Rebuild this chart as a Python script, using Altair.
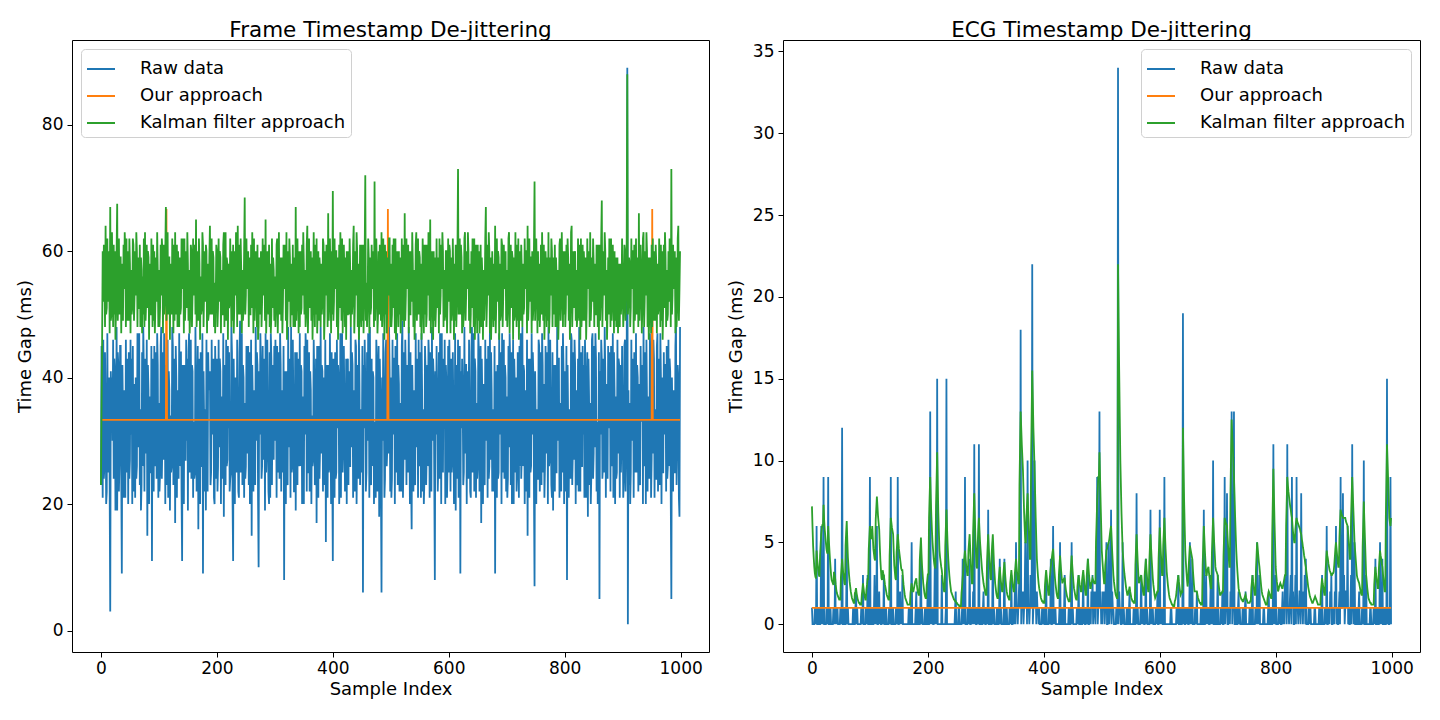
import altair as alt
import pandas as pd

SERIES = ["Raw data", "Our approach", "Kalman filter approach"]
COLORS = ["#1f77b4", "#ff7f0e", "#2ca02c"]
FONT = "DejaVu Sans"

# ---------------- Frame timestamps (left), one value per sample ----------------
frame_raw = [
    23, 45, 33, 21, 46, 24, 26, 44, 35, 20, 22, 47, 28, 25, 40, 23, 3, 41, 36, 40, 30, 46, 24, 43, 41, 19, 29, 48, 19, 44, 42, 22, 27, 45, 45, 25, 9, 42, 34, 21, 38, 27, 21, 46, 25, 41, 43, 20, 44, 24,
    27, 46, 31, 43, 20, 45, 22, 26, 39, 21, 40, 24, 26, 47, 29, 42, 47, 23, 35, 19, 23, 44, 26, 48, 41, 22, 43, 39, 28, 46, 15, 42, 38, 20, 37, 25, 25, 45, 11, 43, 36, 22, 45, 26, 29, 44, 24, 47, 42, 21,
    36, 22, 25, 45, 48, 24, 30, 44, 27, 47, 43, 20, 40, 42, 23, 46, 21, 41, 38, 19, 34, 25, 26, 48, 45, 23, 31, 43, 17, 45, 40, 21, 38, 26, 24, 47, 26, 44, 44, 22, 11, 42, 35, 20, 42, 27, 27, 46, 30, 43,
    19, 44, 47, 25, 28, 46, 24, 42, 41, 21, 33, 24, 25, 48, 39, 22, 29, 45, 16, 43, 37, 20, 44, 26, 26, 47, 9, 41, 33, 22, 35, 19, 46, 27, 22, 44, 38, 40, 41, 23, 25, 46, 31, 42, 43, 21, 20, 45, 39, 24,
    43, 22, 26, 46, 29, 43, 41, 20, 37, 25, 24, 47, 18, 42, 39, 23, 46, 26, 27, 45, 32, 44, 22, 24, 25, 48, 44, 21, 11, 43, 33, 20, 40, 26, 25, 46, 34, 22, 21, 44, 49, 25, 30, 47, 23, 42, 40, 21, 36, 24,
    26, 45, 28, 43, 45, 23, 44, 20, 24, 46, 15, 42, 36, 22, 38, 26, 23, 48, 30, 44, 42, 21, 10, 41, 31, 47, 42, 24, 26, 45, 27, 43, 37, 19, 47, 25, 29, 46, 33, 22, 20, 44, 21, 47, 43, 23, 39, 42, 27, 45,
    30, 46, 40, 21, 45, 25, 27, 44, 24, 47, 42, 22, 38, 26, 25, 45, 8, 41, 34, 20, 41, 24, 23, 48, 29, 43, 39, 21, 48, 25, 26, 46, 35, 22, 22, 44, 19, 42, 44, 23, 43, 26, 28, 47, 26, 42, 41, 20, 37, 24,
    20, 45, 31, 47, 43, 22, 46, 25, 25, 44, 22, 41, 38, 20, 34, 26, 27, 46, 40, 23, 24, 43, 17, 45, 36, 21, 45, 24, 29, 48, 28, 42, 41, 22, 36, 40, 23, 46, 14, 42, 33, 21, 42, 25, 26, 47, 33, 20, 44, 26,
    11, 43, 35, 21, 44, 24, 25, 46, 32, 42, 40, 20, 27, 47, 21, 44, 47, 25, 29, 45, 36, 22, 24, 43, 20, 41, 43, 23, 41, 26, 26, 48, 29, 44, 42, 21, 38, 24, 22, 46, 45, 20, 30, 42, 24, 47, 39, 23, 35, 25,
    27, 45, 6, 42, 32, 46, 39, 22, 25, 44, 30, 47, 44, 21, 48, 25, 23, 43, 26, 41, 40, 20, 33, 24, 21, 46, 43, 22, 28, 45, 18, 43, 37, 23, 6, 40, 30, 47, 37, 21, 24, 44, 46, 26, 29, 42, 28, 48, 41, 22,
    40, 21, 24, 46, 31, 43, 43, 20, 45, 25, 26, 47, 23, 42, 39, 22, 36, 24, 22, 45, 49, 21, 28, 44, 27, 46, 40, 23, 42, 26, 25, 48, 33, 20, 44, 24, 16, 42, 35, 22, 38, 25, 23, 47, 29, 43, 41, 21, 46, 26,
    27, 44, 21, 47, 38, 22, 35, 20, 24, 45, 41, 23, 28, 42, 26, 46, 43, 21, 44, 25, 22, 48, 30, 43, 40, 24, 8, 41, 31, 45, 37, 22, 26, 44, 24, 47, 42, 20, 47, 26, 25, 43, 32, 46, 20, 42, 39, 21, 27, 45,
    25, 46, 39, 22, 43, 25, 27, 44, 34, 20, 23, 47, 19, 42, 40, 24, 46, 21, 29, 45, 9, 41, 32, 43, 38, 23, 25, 48, 28, 42, 42, 20, 41, 26, 24, 46, 33, 22, 21, 44, 48, 25, 30, 47, 22, 43, 41, 21, 36, 24,
    26, 47, 44, 22, 28, 45, 17, 43, 36, 20, 39, 25, 23, 46, 30, 42, 43, 21, 45, 24, 26, 48, 27, 44, 38, 22, 35, 26, 22, 45, 9, 41, 33, 21, 42, 24, 25, 47, 31, 43, 44, 20, 47, 25, 27, 46, 24, 42, 40, 22,
    37, 21, 24, 45, 29, 47, 42, 23, 44, 20, 27, 46, 20, 43, 38, 25, 40, 22, 25, 44, 33, 21, 45, 26, 47, 24, 28, 48, 26, 42, 41, 20, 38, 24, 22, 46, 15, 43, 34, 21, 43, 25, 26, 47, 31, 44, 40, 22, 7, 41,
    33, 20, 35, 24, 24, 46, 45, 22, 29, 44, 23, 47, 42, 25, 39, 21, 26, 45, 28, 43, 44, 20, 48, 26, 27, 46, 34, 23, 21, 44, 19, 42, 39, 22, 42, 25, 25, 48, 30, 43, 43, 21, 36, 24, 22, 45, 25, 47, 41, 20,
    41, 22, 26, 45, 8, 42, 33, 21, 35, 25, 24, 47, 46, 23, 28, 44, 27, 46, 42, 20, 38, 24, 23, 43, 22, 48, 40, 22, 44, 26, 26, 45, 31, 42, 21, 46, 40, 21, 29, 44, 18, 43, 37, 23, 36, 20, 25, 46, 47, 24,
    28, 45, 29, 47, 43, 22, 33, 20, 22, 44, 5, 41, 31, 46, 43, 24, 26, 43, 25, 48, 41, 21, 39, 25, 24, 45, 32, 42, 44, 22, 45, 26, 27, 47, 21, 44, 38, 20, 37, 24, 25, 46, 28, 43, 42, 21, 42, 25, 30, 45,
    34, 21, 24, 45, 46, 22, 28, 44, 89, 1, 38, 23, 36, 20, 25, 46, 30, 43, 41, 21, 44, 25, 26, 47, 25, 42, 40, 22, 39, 24, 23, 45, 33, 41, 42, 20, 48, 26, 27, 44, 20, 46, 36, 22, 37, 25, 24, 47, 42, 21,
    27, 44, 28, 46, 43, 21, 35, 24, 24, 45, 47, 22, 29, 43, 23, 47, 40, 20, 40, 25, 25, 44, 31, 42, 42, 22, 45, 24, 26, 46, 26, 43, 41, 21, 5, 40, 33, 22, 38, 25, 25, 45, 49, 23, 30, 42, 40, 21, 18, 48,
]
frame_kalman = [
    23, 35, 46, 60, 52, 61, 58, 48, 64, 50, 51, 62, 52, 59, 60, 47, 67, 49, 50, 63, 55, 48, 61, 50, 60, 46, 51, 60, 67.5, 49, 54, 62, 50, 59, 59, 47, 58, 50, 49, 61, 54, 63, 60, 48, 62, 49, 52, 60, 49, 62,
    58, 47, 57, 50, 51, 62, 61, 49, 53, 60, 53, 63, 60, 48, 59, 51, 51, 61, 48, 59, 57, 47, 56, 50, 62, 48, 63, 49, 52, 61, 51, 60, 59, 46, 58, 50, 50, 62, 55, 48, 61, 49, 60, 47, 52, 59, 52, 63, 57, 48,
    57, 48, 51, 61, 53, 62, 60, 47, 61, 50, 52, 60, 67, 49, 54, 63, 50, 59, 59, 46, 58, 51, 50, 62, 55, 47, 61, 49, 63, 50, 52, 61, 48, 60, 57, 48, 59, 50, 51, 62, 54, 59, 62, 47, 62, 49, 53, 60, 51, 63,
    58, 49, 57, 47, 50, 61, 60, 48, 53, 62, 53, 59, 61, 50, 65, 48, 52, 60, 49, 62, 58, 46, 56, 50, 51, 63, 61, 48, 54, 60, 52, 61, 60, 47, 58, 49, 50, 59, 64, 50, 53, 62, 50, 60, 59, 48, 55, 47, 52, 61,
    60, 48, 51, 62, 52, 60, 59, 47, 57, 50, 50, 61, 63, 48, 54, 63, 49, 59, 58, 46, 58, 51, 52, 62, 55, 48, 60, 49, 61, 47, 51, 60, 53, 63, 59, 48, 64, 50, 52, 61, 50, 62, 57, 47, 57, 49, 51, 60, 68.5, 50,
    53, 62, 54, 59, 60, 48, 59, 50, 50, 61, 51, 63, 58, 47, 62, 49, 53, 60, 56, 48, 61, 46, 48, 59, 56, 50, 60, 48, 52, 62, 53, 61, 59, 49, 65, 47, 51, 60, 55, 50, 61, 48, 58, 47, 50, 62, 51, 59, 57, 49,
    56, 48, 51, 61, 62, 47, 53, 63, 50, 59, 58, 49, 59, 47, 52, 61, 54, 60, 61, 49, 63, 46, 51, 60, 52, 62, 59, 48, 58, 50, 50, 61, 48, 59, 57, 48, 67, 49, 53, 62, 55, 47, 60, 48, 60, 50, 51, 61, 53, 63,
    58, 50, 57, 48, 50, 61, 64, 47, 52, 62, 51, 59, 60, 49, 59, 46, 53, 63, 55, 48, 61, 50, 62, 47, 51, 60, 49, 59, 57, 48, 58, 50, 52, 62, 61, 46, 50, 60, 53, 61, 59, 48, 66, 49, 52, 62, 56, 47, 60, 50,
    69.5, 49, 52, 62, 54, 60, 60, 48, 59, 46, 51, 61, 51, 63, 58, 49, 62, 47, 53, 61, 56, 48, 59, 46, 60, 50, 50, 60, 50, 62, 57, 48, 57, 50, 52, 61, 64, 47, 51, 60, 53, 63, 60, 48, 58, 46, 50, 61, 55, 48,
    61, 49, 61, 47, 52, 60, 72, 49, 55, 48, 52, 62, 59, 47, 59, 50, 51, 61, 54, 59, 60, 48, 71, 49, 53, 62, 57, 47, 50, 60, 50, 61, 58, 49, 63, 48, 52, 62, 55, 46, 61, 50, 60, 47, 51, 59, 53, 62, 62, 48,
    58, 48, 50, 61, 51, 62, 59, 47, 62, 46, 52, 60, 55, 48, 60, 50, 59, 47, 51, 62, 49, 61, 57, 48, 66, 49, 53, 62, 54, 59, 61, 47, 60, 50, 50, 60, 52, 63, 58, 48, 57, 46, 51, 61, 63, 49, 54, 62, 50, 60,
    59, 48, 58, 46, 52, 62, 55, 47, 61, 50, 61, 48, 50, 61, 53, 63, 58, 49, 65, 47, 52, 60, 56, 46, 60, 49, 59, 48, 51, 62, 51, 59, 57, 47, 62, 50, 53, 61, 54, 63, 60, 48, 57, 49, 50, 60, 60, 47, 53, 62,
    52, 61, 60, 47, 59, 49, 51, 62, 55, 46, 58, 49, 61, 48, 52, 60, 73, 50, 54, 62, 50, 61, 59, 47, 57, 48, 51, 62, 63, 49, 53, 60, 54, 63, 60, 49, 58, 47, 50, 60, 51, 62, 57, 48, 62, 46, 52, 61, 56, 47,
    61, 49, 60, 47, 51, 61, 48, 59, 56, 46, 57, 49, 53, 62, 67, 48, 52, 61, 53, 63, 60, 47, 59, 46, 51, 60, 55, 48, 58, 49, 64, 47, 52, 62, 52, 60, 59, 46, 58, 49, 50, 62, 61, 48, 53, 61, 54, 59, 60, 49,
    57, 48, 51, 62, 63, 47, 53, 61, 51, 60, 59, 46, 59, 49, 50, 63, 55, 48, 61, 49, 62, 46, 52, 60, 49, 61, 57, 48, 58, 50, 51, 62, 54, 60, 60, 47, 64, 49, 52, 62, 52, 59, 59, 47, 60, 49, 51, 61, 71, 49,
    54, 62, 55, 47, 60, 49, 58, 48, 51, 61, 50, 63, 57, 49, 61, 46, 52, 60, 56, 48, 59, 49, 63, 47, 50, 59, 53, 62, 60, 48, 59, 50, 52, 61, 48, 59, 56, 48, 57, 46, 51, 61, 62, 49, 53, 63, 55, 48, 60, 50,
    60, 48, 51, 61, 53, 62, 59, 49, 58, 46, 52, 63, 64, 48, 53, 60, 51, 59, 60, 49, 57, 48, 50, 62, 55, 49, 61, 46, 62, 48, 52, 61, 49, 60, 57, 49, 59, 46, 51, 62, 54, 59, 60, 48, 63, 49, 52, 59, 52, 62,
    58, 48, 58, 50, 50, 61, 56, 48, 61, 46, 61, 49, 52, 62, 68, 48, 54, 60, 53, 63, 60, 49, 57, 46, 51, 59, 50, 62, 58, 48, 62, 49, 52, 61, 55, 47, 60, 49, 59, 48, 50, 59, 47, 58, 56, 48, 58, 50, 52, 62,
    55, 48, 51, 61, 60, 49, 53, 62, 88, 50, 52, 59, 58, 48, 51, 62, 54, 60, 60, 47, 61, 49, 52, 62, 50, 59, 58, 48, 66, 49, 53, 61, 57, 47, 51, 62, 63, 48, 52, 60, 53, 63, 60, 48, 59, 46, 50, 59, 55, 47,
    61, 48, 62, 49, 51, 60, 49, 61, 58, 47, 58, 50, 51, 62, 56, 48, 61, 49, 60, 46, 52, 61, 51, 63, 59, 48, 57, 49, 50, 60, 52, 62, 60, 48, 73, 50, 53, 61, 54, 59, 60, 47, 59, 48, 51, 62, 64, 49, 54, 60,
]
frame_ours_x = [0, 112, 113, 114, 494, 495, 496, 950, 951, 952, 999]
frame_ours_y = [33.33, 33.33, 66.67, 33.33, 33.33, 66.67, 33.33, 33.33, 66.67, 33.33, 33.33]

# ---------------- ECG timestamps (right), one value per sample ----------------
ecg_raw = [
    1, 0, 0, 0, 0, 1, 1, 0, 6, 0, 0, 1, 1, 0, 0, 1, 6, 0, 1, 0, 9, 0, 0, 0, 0, 1, 1, 0, 9, 0, 0, 1, 1, 0, 0, 0, 0, 1, 1, 0, 4, 0, 1, 0, 1, 0, 0, 0, 0, 1,
    1, 0, 12, 0, 0, 1, 1, 0, 0, 1, 5, 0, 1, 0, 0, 0, 0, 0, 0, 0, 0, 1, 1, 0, 0, 1, 2, 0, 1, 0, 0, 0, 0, 0, 0, 1, 1, 0, 3, 0, 0, 0, 0, 1, 1, 0, 3, 0, 0, 1,
    9, 0, 0, 1, 1, 0, 0, 1, 3, 0, 1, 0, 6, 0, 0, 1, 2, 0, 1, 0, 0, 1, 1, 0, 3, 0, 0, 1, 1, 0, 0, 0, 0, 1, 1, 0, 9, 0, 0, 1, 1, 0, 0, 0, 0, 1, 1, 0, 9, 0,
    0, 1, 2, 0, 1, 0, 3, 0, 0, 0, 0, 0, 0, 0, 0, 0, 0, 1, 1, 0, 0, 1, 5, 0, 0, 0, 0, 0, 0, 1, 2, 0, 0, 1, 1, 0, 0, 1, 5, 0, 1, 0, 0, 0, 0, 1, 1, 0, 0, 1,
    3, 0, 0, 1, 13, 0, 1, 0, 1, 0, 0, 1, 4, 0, 1, 0, 15, 0, 0, 0, 0, 0, 0, 0, 3, 0, 0, 0, 0, 0, 0, 1, 15, 0, 0, 0, 0, 0, 0, 0, 0, 0, 0, 0, 0, 0, 0, 1, 2, 0,
    0, 0, 0, 1, 1, 0, 0, 0, 0, 1, 4, 0, 1, 0, 9, 0, 0, 0, 0, 1, 1, 0, 4, 0, 0, 1, 1, 0, 2, 0, 11, 0, 1, 0, 0, 1, 1, 0, 11, 0, 0, 1, 1, 0, 0, 1, 2, 0, 1, 0,
    0, 1, 1, 0, 7, 0, 0, 1, 1, 0, 0, 1, 5, 0, 1, 0, 0, 0, 0, 1, 1, 0, 0, 1, 4, 0, 1, 0, 0, 0, 0, 1, 4, 0, 0, 1, 1, 0, 0, 0, 0, 1, 1, 0, 3, 0, 0, 1, 1, 0,
    2, 0, 5, 1, 1, 0, 1, 2, 3, 1, 18, 0, 2, 1, 2, 0, 1, 2, 5, 1, 3, 0, 10, 1, 1, 0, 1, 3, 2, 1, 22, 0, 1, 2, 10, 1, 2, 0, 2, 1, 1, 0, 1, 0, 0, 0, 0, 1, 1, 0,
    1, 0, 0, 1, 3, 0, 0, 0, 0, 1, 1, 0, 4, 0, 0, 1, 6, 0, 1, 0, 1, 0, 0, 0, 0, 0, 0, 1, 5, 0, 0, 1, 1, 0, 0, 1, 3, 0, 0, 0, 0, 0, 0, 1, 1, 0, 0, 1, 5, 0,
    1, 0, 0, 0, 0, 0, 0, 1, 1, 0, 3, 0, 0, 1, 1, 0, 0, 1, 3, 0, 1, 0, 0, 1, 1, 0, 4, 0, 0, 1, 1, 0, 2, 1, 3, 0, 1, 2, 1, 0, 2, 1, 9, 0, 1, 2, 13, 1, 2, 0,
    1, 0, 2, 1, 2, 0, 1, 3, 5, 0, 0, 1, 5, 0, 1, 2, 7, 0, 2, 1, 1, 0, 0, 0, 0, 1, 1, 0, 34, 0, 2, 1, 1, 0, 0, 1, 5, 0, 1, 0, 0, 0, 0, 1, 1, 0, 0, 1, 2, 0,
    0, 0, 0, 0, 0, 1, 1, 0, 0, 1, 8, 0, 1, 0, 0, 0, 0, 1, 3, 0, 1, 0, 1, 0, 0, 1, 4, 0, 1, 0, 0, 0, 0, 1, 7, 0, 1, 0, 1, 0, 0, 0, 0, 1, 1, 0, 2, 0, 0, 1,
    7, 0, 1, 0, 1, 0, 0, 1, 9, 0, 0, 0, 0, 0, 0, 0, 0, 0, 0, 1, 1, 0, 0, 0, 0, 0, 0, 0, 0, 1, 1, 0, 3, 0, 0, 1, 1, 0, 0, 1, 19, 0, 1, 0, 0, 1, 1, 0, 1, 0,
    0, 1, 5, 0, 1, 0, 4, 0, 0, 0, 0, 1, 1, 0, 2, 0, 0, 0, 0, 0, 0, 1, 1, 0, 0, 1, 7, 0, 0, 1, 3, 0, 1, 0, 1, 0, 0, 1, 3, 0, 1, 0, 10, 0, 0, 1, 1, 0, 0, 1,
    3, 0, 0, 0, 0, 1, 1, 0, 2, 0, 0, 1, 9, 0, 1, 2, 8, 0, 0, 1, 1, 0, 2, 1, 13, 0, 1, 2, 13, 0, 0, 1, 1, 0, 0, 1, 2, 0, 1, 0, 0, 0, 0, 1, 1, 0, 0, 1, 2, 0,
    0, 0, 0, 0, 0, 1, 1, 0, 0, 1, 3, 0, 0, 0, 0, 1, 1, 0, 5, 0, 1, 0, 3, 0, 0, 0, 0, 0, 0, 1, 1, 0, 0, 0, 0, 0, 0, 1, 2, 0, 0, 1, 1, 0, 0, 1, 11, 0, 1, 0,
    3, 0, 0, 0, 0, 1, 1, 0, 1, 0, 0, 1, 2, 0, 1, 0, 3, 1, 2, 0, 11, 1, 1, 0, 1, 2, 3, 0, 9, 1, 2, 0, 0, 1, 3, 0, 9, 1, 1, 0, 1, 2, 2, 0, 8, 1, 1, 0, 2, 1,
    3, 0, 4, 0, 0, 0, 0, 1, 1, 0, 1, 0, 0, 0, 0, 0, 0, 1, 1, 0, 0, 0, 0, 0, 0, 1, 1, 0, 0, 1, 3, 0, 0, 0, 0, 1, 1, 0, 6, 0, 0, 1, 1, 0, 2, 1, 3, 0, 0, 1,
    1, 0, 2, 1, 6, 0, 1, 0, 0, 1, 2, 0, 9, 1, 1, 2, 8, 1, 3, 0, 1, 2, 2, 1, 6, 0, 1, 0, 0, 1, 3, 0, 11, 1, 1, 0, 5, 0, 0, 1, 1, 0, 0, 1, 2, 0, 0, 0, 0, 1,
    1, 0, 10, 0, 0, 1, 3, 0, 0, 0, 0, 0, 0, 1, 1, 0, 0, 0, 0, 1, 1, 0, 4, 0, 0, 1, 1, 0, 0, 1, 5, 0, 1, 0, 4, 0, 0, 1, 1, 0, 0, 1, 15, 0, 1, 0, 0, 1, 9, 0,
]
ecg_kalman = [
    7.2, 5.9, 4.8, 4.1, 3.5, 3.1, 2.9, 2.8, 4.5, 4.0, 3.6, 3.3, 3.0, 2.9, 4.2, 4.9, 5.5, 5.8, 6.1, 6.0, 7.3, 6.4, 5.8, 5.4, 5.0, 4.6, 4.4, 4.3, 6.0, 5.2, 4.6, 4.0, 3.5, 3.0, 2.7, 2.6, 2.5, 2.4, 3.2, 3.0, 2.8, 2.4, 2.1, 1.9, 1.8, 1.7, 1.6, 1.5, 1.5, 1.5,
    2.9, 3.4, 4.0, 3.5, 3.1, 2.8, 2.5, 2.4, 4.8, 5.6, 6.3, 5.1, 4.1, 3.5, 3.0, 2.6, 2.3, 2.0, 1.8, 1.6, 1.5, 1.4, 1.3, 1.3, 1.9, 2.0, 2.2, 1.9, 1.7, 1.5, 1.4, 1.3, 1.3, 1.2, 1.2, 1.2, 1.8, 2.1, 2.5, 2.2, 1.9, 1.7, 1.5, 1.5, 2.1, 2.4, 2.8, 2.7, 4.6, 5.3,
    6.0, 5.6, 5.2, 5.4, 6.0, 5.3, 4.6, 4.3, 4.0, 3.9, 6.4, 7.1, 7.8, 7.2, 6.6, 6.2, 5.8, 4.8, 3.9, 3.3, 2.8, 2.7, 3.3, 3.1, 3.0, 2.7, 2.4, 2.2, 2.0, 1.8, 1.7, 1.6, 1.5, 1.5, 4.2, 5.3, 6.5, 6.2, 5.9, 5.7, 5.5, 4.5, 3.6, 3.2, 2.8, 2.7, 4.4, 4.9, 5.5, 5.1,
    4.6, 4.3, 4.0, 3.7, 3.4, 3.3, 3.3, 2.8, 2.4, 2.1, 1.8, 1.6, 1.5, 1.4, 1.3, 1.2, 1.2, 1.2, 1.2, 1.2, 1.9, 2.2, 2.5, 2.2, 2.0, 2.0, 2.2, 2.4, 2.6, 2.7, 2.8, 2.4, 2.1, 1.9, 1.8, 1.8, 3.9, 4.6, 5.3, 4.3, 3.5, 3.0, 2.5, 2.2, 1.9, 1.7, 1.6, 1.6, 2.4, 2.7,
    3.1, 3.0, 6.5, 7.8, 9.0, 7.7, 6.6, 5.7, 5.0, 4.5, 4.0, 3.7, 3.5, 3.4, 7.2, 8.8, 10.5, 8.5, 6.8, 5.6, 4.5, 4.1, 3.8, 3.5, 3.3, 2.9, 2.5, 2.2, 2.0, 2.0, 4.8, 5.9, 7.0, 5.9, 4.9, 4.1, 3.5, 3.0, 2.6, 2.3, 2.0, 1.9, 1.8, 1.7, 1.6, 1.5, 1.5, 1.4, 1.4, 1.3,
    1.3, 1.2, 1.2, 1.2, 1.1, 1.1, 1.1, 1.1, 1.9, 2.3, 2.8, 3.3, 3.8, 4.1, 4.5, 4.0, 3.6, 3.3, 3.0, 3.0, 4.5, 5.0, 5.5, 4.6, 3.7, 3.1, 2.5, 2.5, 5.6, 6.8, 8.0, 6.6, 5.2, 4.3, 3.5, 3.4, 5.0, 5.8, 6.5, 5.7, 5.0, 4.5, 4.0, 3.5, 3.1, 2.8, 2.5, 2.3, 2.1, 1.9,
    1.8, 1.8, 3.8, 4.7, 5.5, 4.7, 4.0, 3.4, 2.8, 2.7, 4.3, 4.9, 5.5, 4.6, 3.7, 3.1, 2.5, 2.2, 1.9, 1.7, 1.6, 1.6, 2.6, 3.1, 3.5, 3.0, 2.6, 2.3, 2.0, 2.0, 2.9, 3.4, 3.8, 3.2, 2.7, 2.3, 2.0, 1.8, 1.7, 1.6, 1.5, 1.5, 2.5, 2.9, 3.3, 2.9, 2.5, 2.2, 2.0, 2.0,
    3.1, 3.5, 4.0, 3.5, 3.1, 2.8, 2.5, 2.5, 8.5, 10.8, 13.0, 12.0, 11.0, 10.2, 9.4, 8.1, 6.8, 5.9, 5.0, 5.0, 6.6, 7.3, 8.0, 6.9, 5.8, 4.9, 4.0, 4.0, 10.0, 12.8, 15.5, 13.8, 12.0, 10.8, 9.5, 8.0, 6.5, 5.2, 4.0, 3.4, 2.9, 2.5, 2.2, 2.0, 1.8, 1.6, 1.5, 1.4, 1.4, 1.3,
    1.3, 1.3, 2.4, 2.9, 3.3, 2.9, 2.5, 2.1, 1.8, 1.8, 2.7, 3.1, 3.5, 3.8, 4.1, 4.4, 4.6, 4.0, 3.4, 2.9, 2.5, 2.2, 1.9, 1.7, 1.6, 1.6, 3.0, 3.6, 4.2, 3.7, 3.2, 2.8, 2.5, 2.6, 2.7, 2.8, 2.8, 2.4, 2.1, 1.9, 1.7, 1.6, 1.5, 1.4, 1.4, 1.4, 2.9, 3.6, 4.2, 3.6,
    3.1, 2.6, 2.2, 2.0, 1.8, 1.6, 1.5, 1.5, 2.3, 2.7, 3.0, 2.7, 2.4, 2.2, 2.0, 2.0, 2.7, 3.0, 3.3, 2.9, 2.5, 2.1, 1.8, 1.8, 2.9, 3.5, 4.0, 3.5, 3.0, 2.6, 2.2, 2.2, 2.5, 2.6, 2.8, 2.7, 2.6, 2.5, 2.5, 2.5, 5.0, 6.2, 7.5, 8.2, 9.0, 9.0, 10.5, 9.0, 7.4, 6.0,
    4.5, 3.9, 3.4, 2.9, 2.5, 2.5, 3.6, 4.0, 4.5, 4.6, 4.8, 4.9, 5.0, 5.2, 5.5, 5.8, 6.0, 5.2, 4.4, 3.7, 3.0, 2.6, 2.3, 2.0, 1.8, 1.7, 1.6, 1.6, 22.0, 18.5, 15.5, 12.7, 10.0, 8.4, 6.8, 5.6, 4.5, 4.0, 3.5, 3.1, 2.8, 2.5, 2.2, 2.0, 1.8, 1.8, 2.0, 2.1, 2.3, 2.0,
    1.8, 1.6, 1.5, 1.4, 1.4, 1.3, 1.3, 1.3, 3.6, 4.6, 5.5, 4.6, 3.8, 3.1, 2.5, 2.6, 2.8, 2.9, 3.0, 2.6, 2.3, 2.0, 1.8, 1.8, 3.0, 3.5, 4.0, 3.4, 2.9, 2.4, 2.0, 2.0, 3.8, 4.7, 5.5, 4.7, 4.0, 3.4, 2.8, 2.4, 2.1, 1.8, 1.6, 1.7, 1.8, 1.9, 2.0, 2.0, 4.0, 5.0,
    5.9, 5.1, 4.3, 3.6, 3.0, 3.0, 4.8, 5.6, 6.5, 5.5, 4.6, 3.9, 3.2, 2.8, 2.4, 2.1, 1.8, 1.6, 1.5, 1.4, 1.3, 1.2, 1.2, 1.1, 1.1, 1.1, 1.4, 1.5, 1.7, 2.0, 2.4, 2.7, 3.0, 2.6, 2.3, 2.0, 1.8, 1.9, 2.0, 1.9, 12.0, 9.8, 7.6, 6.0, 4.5, 3.8, 3.2, 2.7, 2.3, 2.6,
    3.6, 4.2, 4.8, 4.6, 4.4, 4.2, 4.0, 3.4, 2.9, 2.4, 2.0, 2.0, 2.0, 2.0, 2.0, 1.8, 1.6, 1.5, 1.4, 1.3, 1.3, 1.2, 1.2, 1.2, 3.6, 4.8, 6.0, 5.2, 4.4, 3.7, 3.0, 3.0, 3.3, 3.4, 3.5, 3.1, 2.8, 2.5, 2.2, 2.2, 4.4, 5.4, 6.5, 5.7, 4.9, 4.2, 3.5, 3.3, 3.2, 3.1,
    3.0, 2.6, 2.3, 2.0, 1.8, 1.8, 1.9, 1.9, 2.0, 2.0, 4.2, 5.4, 6.5, 6.3, 6.2, 6.1, 6.0, 5.3, 4.7, 4.1, 3.5, 3.5, 8.0, 10.3, 12.5, 11.6, 10.8, 9.9, 9.0, 7.8, 6.6, 5.5, 4.5, 3.8, 3.2, 2.7, 2.2, 2.0, 1.9, 1.7, 1.6, 1.5, 1.5, 1.4, 1.4, 1.5, 1.6, 1.7, 1.8, 1.6,
    1.5, 1.4, 1.3, 1.3, 1.3, 1.3, 1.4, 1.4, 2.2, 2.6, 3.0, 2.6, 2.3, 2.0, 1.8, 1.8, 3.4, 4.2, 5.0, 4.6, 4.2, 3.8, 3.5, 3.1, 2.7, 2.3, 2.0, 1.8, 1.7, 1.6, 1.5, 1.4, 1.3, 1.2, 1.2, 1.2, 1.6, 1.8, 2.0, 1.9, 1.8, 1.7, 1.6, 1.6, 5.5, 7.5, 9.5, 7.8, 6.2, 4.8,
    3.5, 3.0, 2.6, 2.3, 2.0, 2.1, 2.3, 2.4, 2.5, 2.4, 2.3, 2.2, 2.2, 2.4, 2.6, 2.8, 3.0, 3.0, 6.0, 7.5, 9.0, 8.5, 8.1, 7.8, 7.5, 7.2, 7.0, 6.7, 6.5, 6.0, 5.6, 5.3, 5.0, 5.0, 5.8, 6.2, 6.5, 6.3, 6.2, 6.1, 6.0, 5.9, 5.8, 5.6, 5.5, 5.2, 5.0, 4.7, 4.5, 4.2,
    4.0, 3.7, 3.5, 3.2, 2.9, 2.6, 2.3, 2.1, 1.9, 1.7, 1.6, 1.5, 1.4, 1.3, 1.3, 1.4, 1.5, 1.6, 1.7, 1.6, 1.5, 1.4, 1.3, 1.2, 1.2, 1.2, 1.2, 1.2, 2.0, 2.4, 2.8, 2.5, 2.3, 2.0, 1.8, 1.8, 3.2, 3.9, 4.5, 4.2, 4.0, 3.7, 3.5, 3.3, 3.2, 3.1, 3.0, 3.0, 3.1, 3.1,
    3.2, 3.6, 4.1, 4.6, 5.0, 4.6, 4.2, 3.8, 3.5, 3.5, 5.3, 6.2, 7.0, 6.8, 6.7, 6.6, 6.5, 6.5, 6.5, 6.5, 6.5, 6.3, 6.2, 6.1, 6.0, 5.5, 5.0, 4.5, 4.0, 4.0, 6.5, 7.8, 9.0, 8.0, 7.0, 6.0, 5.0, 4.5, 4.0, 3.5, 3.0, 2.8, 2.7, 2.6, 2.5, 2.3, 2.1, 1.9, 1.8, 1.8,
    4.7, 6.1, 7.5, 6.3, 5.2, 4.1, 3.0, 2.6, 2.2, 1.9, 1.6, 1.5, 1.4, 1.3, 1.3, 1.2, 1.2, 1.2, 1.2, 1.2, 2.4, 3.0, 3.5, 3.1, 2.8, 2.5, 2.2, 2.2, 3.4, 4.0, 4.5, 4.2, 4.0, 3.7, 3.5, 3.1, 2.7, 2.3, 2.0, 2.0, 6.5, 8.8, 11.0, 9.9, 8.8, 7.6, 6.5, 6.2, 6.0, 6.5,
]
ecg_ours_x = [0, 999]
ecg_ours_y = [1.0, 1.0]

color_scale = alt.Scale(domain=SERIES, range=COLORS)


def frame(xs, ys, name):
    return pd.DataFrame({"x": xs, "y": ys, "series": name})


def sampled(values, name):
    return frame(list(range(len(values))), values, name)


def panel(title, raw, ours_x, ours_y, kalman, ydom, yticks, legend_orient):
    xscale = alt.Scale(domain=[-49.95, 1048.95], nice=False, zero=False)
    yscale = alt.Scale(domain=ydom, nice=False, zero=False)
    common = dict(grid=False, domain=False, tickColor="black", tickSize=5, tickWidth=1,
                  labelFontSize=17, titleFontSize=18, labelColor="black", titleColor="black",
                  titleFontWeight="normal", labelFont=FONT, titleFont=FONT)
    xaxis = alt.Axis(values=[0, 200, 400, 600, 800, 1000], title="Sample Index", format="d",
                     labelPadding=3, titlePadding=4, labelFlush=False, **common)
    yaxis = alt.Axis(values=yticks, title="Time Gap (ms)", format="d",
                     labelPadding=4, titlePadding=7, **common)
    legend = alt.Legend(title=None, orient=legend_orient, offset=9, fillColor="white",
                        strokeColor="#d0d0d0", cornerRadius=4, padding=5,
                        symbolType="stroke", symbolSize=784, symbolStrokeWidth=2,
                        labelFontSize=18, labelFont=FONT, labelColor="black",
                        labelLimit=500, rowPadding=3, labelOffset=24)
    layers = []
    for df in [sampled(raw, SERIES[0]),
               frame(ours_x, ours_y, SERIES[1]),
               sampled(kalman, SERIES[2])]:
        layers.append(
            alt.Chart(df).mark_line(strokeWidth=1.8, clip=True).encode(
                x=alt.X("x:Q", scale=xscale, axis=xaxis),
                y=alt.Y("y:Q", scale=yscale, axis=yaxis),
                color=alt.Color("series:N", scale=color_scale, legend=legend),
            )
        )
    return alt.layer(*layers).properties(
        width=637, height=612,
        title=alt.TitleParams(title, fontSize=21.5, font=FONT, fontWeight="normal",
                              color="black", offset=-1),
    )


left = panel("Frame Timestamp De-jittering", frame_raw, frame_ours_x, frame_ours_y,
             frame_kalman, [-3.4, 93.4], [0, 20, 40, 60, 80], "top-left")
right = panel("ECG Timestamp De-jittering", ecg_raw, ecg_ours_x, ecg_ours_y,
              ecg_kalman, [-1.7, 35.7], [0, 5, 10, 15, 20, 25, 30, 35], "top-right")

chart = alt.hconcat(left, right, spacing=16).resolve_scale(color="independent").resolve_legend(
    color="independent"
).properties(
    padding={"left": 7, "top": 11, "right": 5, "bottom": 5},
    background="white",
).configure_view(stroke="black", strokeWidth=1)

chart.save("out.html", embed_options={"renderer": "svg", "actions": False})
